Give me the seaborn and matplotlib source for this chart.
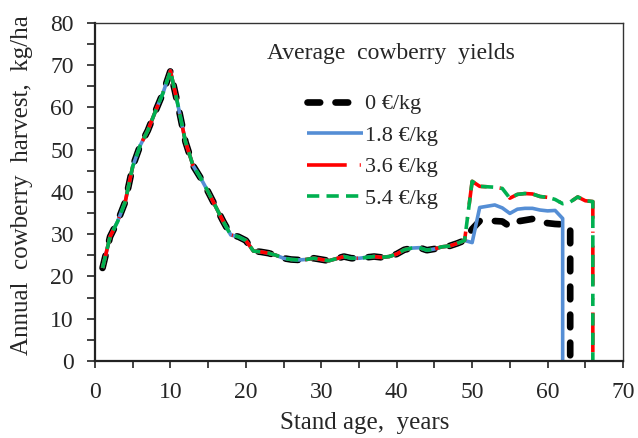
import matplotlib
matplotlib.use("Agg")
import matplotlib.pyplot as plt
from matplotlib.ticker import MultipleLocator
import numpy as np
import pandas as pd
import seaborn as sns

# Stand ages shared by all price scenarios before the yield split (years)
base_ages = list(range(1, 50))
base_yield = [22.0, 29.4, 33.0, 37.6, 46.0, 51.0, 54.5, 59.0, 63.3, 68.6,
              60.5, 51.8, 46.2, 43.3, 40.0, 36.5, 33.0, 29.8, 29.4, 28.5,
              26.0, 25.8, 25.5, 25.0, 24.3, 24.0, 23.9, 24.0, 24.3, 24.0,
              23.7, 24.2, 24.7, 24.3, 24.3, 24.5, 24.7, 24.5, 24.7, 25.3,
              26.3, 26.7, 26.8, 26.2, 26.5, 27.0, 27.2, 27.8, 28.5]

# Scenario-specific yields from age 50 until final felling (kg/ha)
tail_0 = [31.2, 33.1, 33.3, 33.1, 33.0, 31.8, 33.0, 33.3, 33.6, 33.0,
          32.6, 32.4, 32.3, 31.9]
tail_18 = [28.0, 36.3, 36.6, 36.9, 36.2, 34.9, 35.9, 36.1, 36.1, 35.7,
           35.5, 35.6, 33.7]
tail_36 = [42.5, 41.3, 41.2, 41.1, 40.8, 38.5, 39.4, 39.6, 39.5, 38.9,
           38.7, 38.2, 37.2, 37.6, 38.8, 37.9, 37.7]
tail_54 = [42.5, 41.3, 41.2, 41.1, 40.8, 38.5, 39.4, 39.6, 39.5, 38.9,
           38.7, 38.2, 37.2, 37.6, 38.8, 37.9, 37.7]

price_labels = ["0 €/kg", "1.8 €/kg", "3.6 €/kg", "5.4 €/kg"]
tails = [tail_0, tail_18, tail_36, tail_54]
# Harvest drops to zero at the rotation (final felling) age
felling_yield = 0.0

colors = ["#000000", "#558ED5", "#FF0000", "#00B050"]
widths = [4.8, 2.6, 2.6, 2.6]
dash_patterns = [(1.9, 2.3), None, (11.0, 3.6, 0.3, 3.6), (3.4, 2.0)]
capstyles = ["round", "butt", "butt", "butt"]

frames = []
for label, tail in zip(price_labels, tails):
    ages = base_ages + list(range(50, 50 + len(tail)))
    vals = base_yield + tail
    ages = ages + [ages[-1]]
    vals = vals + [felling_yield]
    frames.append(pd.DataFrame({"age": ages, "harvest": vals, "price": label}))
df = pd.concat(frames, ignore_index=True)

sns.set_style("ticks")
plt.rcParams["font.family"] = ["Liberation Serif", "DejaVu Serif"]

fig = plt.figure(figsize=(6.38, 4.38), dpi=100)
ax = fig.add_axes([95 / 638, 1 - 361 / 438, (623 - 95) / 638, (361 - 22.7) / 438])

for label, color, lw, dash, cap in zip(price_labels, colors, widths,
                                       dash_patterns, capstyles):
    sub = df[df["price"] == label]
    sns.lineplot(data=sub, x="age", y="harvest", color=color, linewidth=lw,
                 sort=False, estimator=None, label=label, ax=ax)
    line = ax.lines[-1]
    if dash is not None:
        line.set_dashes(dash)
    line.set_dash_capstyle(cap)
    line.set_solid_capstyle("butt")

ax.set_xlim(0, 70)
ax.set_ylim(0, 80)
ax.xaxis.set_major_locator(MultipleLocator(10))
ax.xaxis.set_minor_locator(MultipleLocator(5))
ax.yaxis.set_major_locator(MultipleLocator(10))
ax.yaxis.set_minor_locator(MultipleLocator(5))
ax.tick_params(axis="y", which="both", direction="out", length=5.8, width=1.2,
               color="#222222")
ax.tick_params(axis="x", which="both", direction="out", length=4.7, width=1.2,
               color="#222222")
ax.tick_params(axis="y", which="major", labelsize=17, pad=9.4)
ax.tick_params(axis="x", which="major", labelsize=17, pad=10.5)

for side in ["left", "bottom"]:
    ax.spines[side].set_linewidth(1.6)
    ax.spines[side].set_color("#222222")
for side in ["top", "right"]:
    ax.spines[side].set_visible(True)
    ax.spines[side].set_linewidth(1.0)
    ax.spines[side].set_color("#333333")

ax.set_xlabel("Stand age,  years", fontsize=18)
ax.set_ylabel("Annual  cowberry  harvest,  kg/ha", fontsize=18)
ax.xaxis.set_label_coords(0.511, -0.151)
ax.yaxis.set_label_coords(-0.117, 0.52)

leg = ax.legend(loc="upper left", bbox_to_anchor=(0.385, 0.816),
                frameon=False, fontsize=16, handlelength=2.5,
                handletextpad=0.1, labelspacing=0.49, borderaxespad=0)
ax.text(0.56, 0.91, "Average  cowberry  yields", transform=ax.transAxes,
        fontsize=17, ha="center", va="center")

fig.savefig("out.png", dpi=100)
